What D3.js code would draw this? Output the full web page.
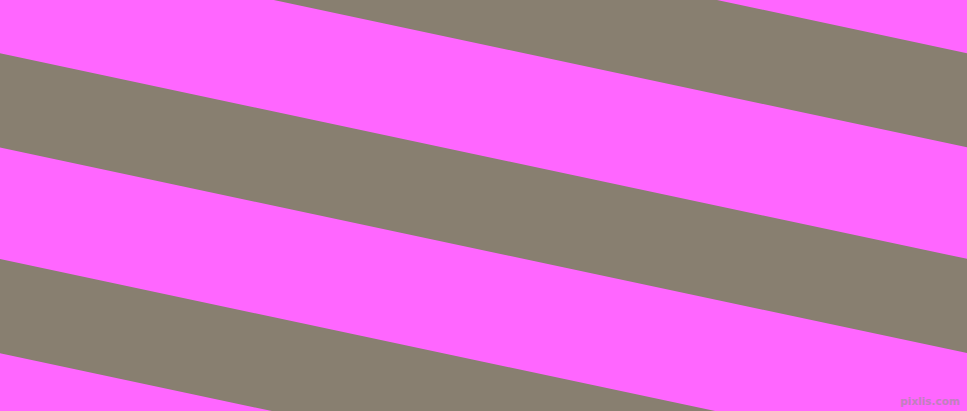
<!DOCTYPE html>
<html>
<head>
<meta charset="utf-8">
<script src="https://cdn.jsdelivr.net/npm/d3@7"></script>
<style>
  html, body { margin: 0; padding: 0; overflow: hidden; }
  svg { display: block; }
</style>
</head>
<body>
<svg id="chart"></svg>
<script>
// stripe data: which gray bands are visible (in periods from the first full band)
const stripeIds = [-1, 0, 1, 2];
const grayShare = 0.458; // part of one period that is gray
const stripeColors = ["#ff66ff", "#887f70"];
const watermark = ["pixlis.com"];

const width = 967;
const height = 411;
const tilt = 12; // degrees

const svg = d3.select("#chart").attr("width", width).attr("height", height);

// band offset (periods) -> y intercept at the left edge
const y = d3.scaleLinear().domain([0, 1]).range([53.3, 259]);
const x = d3.scaleLinear().domain([0, 1]).range([0, width]);
const slope = Math.tan(tilt * Math.PI / 180);

svg.append("rect")
  .attr("width", width)
  .attr("height", height)
  .attr("fill", stripeColors[0]);

const line = d3.line();

svg.selectAll("path.stripe")
  .data(stripeIds)
  .enter()
  .append("path")
  .attr("class", "stripe")
  .attr("fill", stripeColors[1])
  .attr("d", d => {
    const x0 = x(0), x1 = x(1);
    return line([
      [x0, y(d) + x0 * slope],
      [x1, y(d) + x1 * slope],
      [x1, y(d + grayShare) + x1 * slope],
      [x0, y(d + grayShare) + x0 * slope]
    ]) + "Z";
  });

svg.selectAll("text.mark")
  .data(watermark)
  .enter()
  .append("text")
  .attr("class", "mark")
  .attr("x", width - 7)
  .attr("y", height - 6)
  .attr("text-anchor", "end")
  .attr("font-family", "DejaVu Sans, sans-serif")
  .attr("font-size", 10.5)
  .attr("font-weight", "bold")
  .attr("fill", "#c080bd")
  .text(d => d);
</script>
</body>
</html>
